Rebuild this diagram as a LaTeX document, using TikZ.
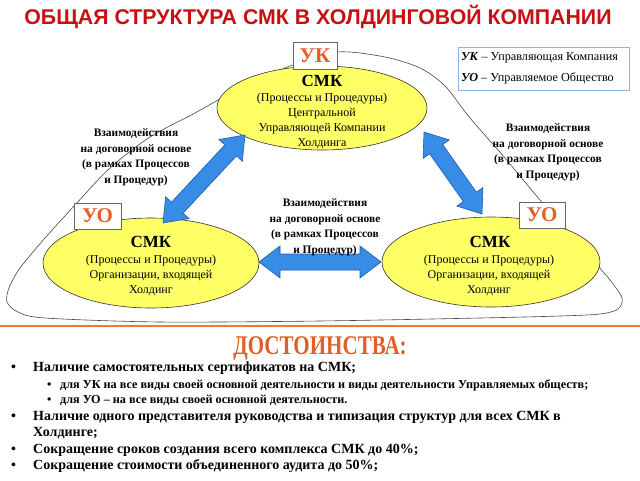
\documentclass[tikz,border=0pt]{standalone}
\usepackage{fontspec}
\usepackage{graphicx}
\setmainfont{Liberation Serif}
\newfontfamily\titlefont{Liberation Sans}
\usetikzlibrary{shapes.geometric,calc}
\definecolor{titlered}{RGB}{200,16,16}
\definecolor{orng}{RGB}{226,96,40}
\definecolor{lineor}{RGB}{240,120,50}
\definecolor{ellfill}{RGB}{255,255,102}
\definecolor{arrfill}{RGB}{55,140,230}
\definecolor{arrdraw}{RGB}{30,90,180}
\definecolor{legbd}{RGB}{140,180,225}
\definecolor{outl}{RGB}{70,70,70}
\def\ahl{21pt}
\def\ahw{16pt}
\def\asw{8pt}
\newcommand\blockarr[2]{%
 \filldraw[arrowst] let \p1=($(#2)-(#1)$), \n1={atan2(\y1,\x1)}, \n2={veclen(\x1,\y1)} in
 (#1)
 -- ($(#1)+(\n1:\ahl)+(\n1+90:\ahw)$)
 -- ($(#1)+(\n1:\ahl)+(\n1+90:\asw)$)
 -- ($(#1)+(\n1:{\n2-\ahl})+(\n1+90:\asw)$)
 -- ($(#1)+(\n1:{\n2-\ahl})+(\n1+90:\ahw)$)
 -- (#2)
 -- ($(#1)+(\n1:{\n2-\ahl})+(\n1-90:\ahw)$)
 -- ($(#1)+(\n1:{\n2-\ahl})+(\n1-90:\asw)$)
 -- ($(#1)+(\n1:\ahl)+(\n1-90:\asw)$)
 -- ($(#1)+(\n1:\ahl)+(\n1-90:\ahw)$)
 -- cycle;}
\tikzset{
 ell/.style={ellipse, draw=black!80, line width=0.6pt, fill=ellfill, inner sep=0pt},
 lblbox/.style={draw=black!60, fill=white, line width=0.6pt, inner sep=0pt, text=orng,
   font=\fontsize{21}{21}\selectfont\bfseries},
 arrowst/.style={fill=arrfill, draw=arrdraw, line width=0.6pt, line join=miter},
 smk/.style={font=\fontsize{17}{17}\selectfont\bfseries},
 body/.style={align=center, font=\fontsize{12}{15}\selectfont},
 inter/.style={align=center, font=\fontsize{11.4}{15.5}\selectfont\bfseries},
 mainb/.style={anchor=base west, inner sep=0pt, font=\fontsize{14}{15}\selectfont\bfseries},
 subb/.style={anchor=base west, inner sep=0pt, font=\fontsize{12.2}{13}\selectfont\bfseries},
}
\begin{document}
\begin{tikzpicture}[x=1pt,y=-1pt]
\useasboundingbox[fill=white] (0,0) rectangle (640,480);
% title
\node[text=titlered, font=\titlefont\fontsize{21.3}{21.3}\selectfont\bfseries] (title) at (318,17) {ОБЩАЯ СТРУКТУРА СМК В ХОЛДИНГОВОЙ КОМПАНИИ};
% outline
\draw[outl, line width=0.6pt] plot[smooth cycle, tension=0.5] coordinates {
 (337,52) (385,57) (420,68) (445,86) (470,118) (505,158) (540,200) (567,230) (590,257)
 (610,280) (622,298) (618,309) (600,314) (560,316) (480,318) (320,321) (160,322)
 (45,318) (18,312) (7,302) (9,288) (20,268) (45,238) (75,205) (110,168) (150,137)
 (195,113) (240,88) (290,66)};
% ellipses
\node[ell, minimum width=210, minimum height=84] (top) at (322,108) {};
\node[ell, minimum width=216, minimum height=90] (left) at (151,263) {};
\node[ell, minimum width=218, minimum height=90] (right) at (491,262) {};
% ellipse texts
\node[smk] (t1) at (322,81) {СМК};
\node[body] (t2) at (322,120.5) {(Процессы и Процедуры)\\Центральной\\Управляющей Компании\\Холдинга};
\node[smk] (l1) at (151,242) {СМК};
\node[body] (l2) at (151,275) {(Процессы и Процедуры)\\Организации, входящей\\Холдинг};
\node[smk] (r1) at (490,242) {СМК};
\node[body] (r2) at (489,275) {(Процессы и Процедуры)\\Организации, входящей\\Холдинг};
% labels boxes
\node[lblbox, minimum width=44, minimum height=27] (uk) at (315,55.5) {УК};
\node[lblbox, minimum width=47, minimum height=26] (uo1) at (97.5,216) {УО};
\node[lblbox, minimum width=46, minimum height=26] (uo2) at (542,215) {УО};
% legend
\node[draw=legbd, line width=0.6pt, minimum width=171, minimum height=43, inner sep=0pt] (leg) at (543.5,68.5) {};
\node[anchor=west, inner sep=0pt, font=\fontsize{12.2}{13}\selectfont] (leg1) at (461,58) {\textbf{\textit{УК}} – Управляющая Компания};
\node[anchor=west, inner sep=0pt, font=\fontsize{12.2}{13}\selectfont] (leg2) at (461,78) {\textbf{\textit{УО}} – Управляемое Общество};
% arrows
\coordinate (a1) at (163,223);
\coordinate (a2) at (245,135);
\coordinate (b1) at (424,132);
\coordinate (b2) at (482,214);
\coordinate (c1) at (259,262);
\coordinate (c2) at (381,262);
\blockarr{a1}{a2}
\blockarr{b1}{b2}
\blockarr{c1}{c2}
% interaction labels
\node[inter] (il) at (136,157.5) {Взаимодействия\\на договорной основе\\(в рамках Процессов\\и Процедур)};
\node[inter] (ir) at (548,152.5) {Взаимодействия\\на договорной основе\\(в рамках Процессов\\и Процедур)};
\node[inter] (im) at (325,227.5) {Взаимодействия\\на договорной основе\\(в рамках Процессов\\и Процедур)};
% divider
\draw[lineor, line width=2.5pt] (0,326) -- (640,326);
% advantages
\node[text=orng, inner sep=0pt, anchor=base, font=\fontsize{27}{27}\selectfont\bfseries] (adv) at (320,354) {\scalebox{0.78}[1]{ДОСТОИНСТВА:}};
\node[mainb] (d1) at (11,371) {•};
\node[mainb] (m1) at (33,371) {Наличие самостоятельных сертификатов на СМК;};
\node[subb] (d2) at (47,388) {•};
\node[subb] (s1) at (60,388) {для УК на все виды своей основной деятельности и виды деятельности Управляемых обществ;};
\node[subb] (d3) at (47,403) {•};
\node[subb] (s2) at (60,403) {для УО – на все виды своей основной деятельности.};
\node[mainb] (d4) at (11,420) {•};
\node[mainb] (m2) at (33,420) {Наличие одного представителя руководства и типизация структур для всех СМК в};
\node[mainb] (m3) at (33,436) {Холдинге;};
\node[mainb] (d5) at (11,453) {•};
\node[mainb] (m4) at (33,453) {Сокращение сроков создания всего комплекса СМК до 40\%;};
\node[mainb] (d6) at (11,469) {•};
\node[mainb] (m5) at (33,469) {Сокращение стоимости объединенного аудита до 50\%;};
\end{tikzpicture}
\end{document}
